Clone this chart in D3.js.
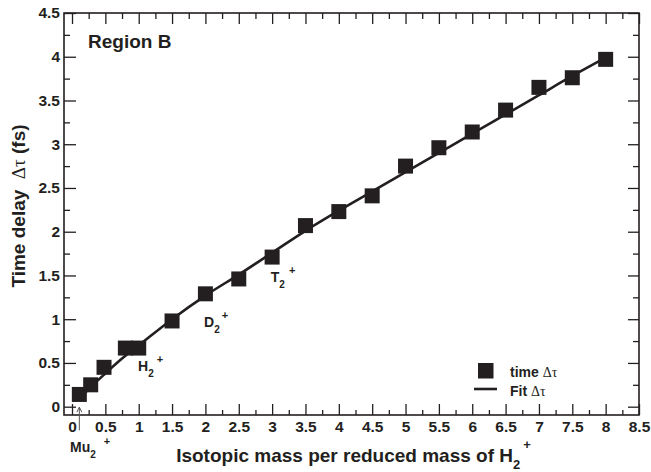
<!DOCTYPE html>
<html>
<head>
<meta charset="utf-8">
<script src="https://cdn.jsdelivr.net/npm/d3@7"></script>
<style>
  body { margin: 0; background: #fff; }
  svg { display: block; font-family: "Liberation Sans", Arial, sans-serif; }
</style>
</head>
<body>
<svg width="651" height="472"></svg>
<script>
// measured points (isotopic mass ratio vs time delay)
const massRatio = [0.11, 0.28, 0.48, 0.8, 1.0, 1.5, 2, 2.5, 3, 3.5, 4, 4.5, 5, 5.5, 6, 6.5, 7, 7.5, 8];
const timeDelay = [0.14, 0.25, 0.45, 0.67, 0.67, 0.98, 1.29, 1.46, 1.71, 2.07, 2.23, 2.41, 2.75, 2.96, 3.14, 3.39, 3.65, 3.76, 3.97];

// fit curve
const fitX = [0.1, 0.25, 0.5, 0.75, 1, 1.5, 2, 2.5, 3, 3.5, 4, 4.5, 5, 5.5, 6, 6.5, 7, 7.5, 8];
const fitY = [0.08, 0.2, 0.38, 0.55, 0.7, 1.0, 1.27, 1.51, 1.76, 2.01, 2.24, 2.46, 2.68, 2.9, 3.12, 3.34, 3.56, 3.78, 3.99];

const xTicks = [0, 0.5, 1, 1.5, 2, 2.5, 3, 3.5, 4, 4.5, 5, 5.5, 6, 6.5, 7, 7.5, 8, 8.5];
const yTicks = [0, 0.5, 1, 1.5, 2, 2.5, 3, 3.5, 4, 4.5];

// isotope labels: base letter, anchor in data units
const isotopes = [
  { name: "Mu", x: -0.03, y: -0.52, gap: 8, up: -13 },
  { name: "H", x: 0.99, y: 0.41, gap: 3, up: -14 },
  { name: "D", x: 1.98, y: 0.91, gap: 2, up: -14 },
  { name: "T", x: 2.98, y: 1.42, gap: 4, up: -14 }
];

const ink = "#231f20";
const svg = d3.select("svg");

// 坐标区域
const pL = 64, pR = 639, pT = 13, pB = 415;
const x = d3.scaleLinear().domain([-0.12, 8.5]).range([pL, pR]);
const y = d3.scaleLinear().domain([-0.095, 4.5]).range([pB, pT]);

const minorX = d3.range(0.25, 8.5, 0.5);
const minorY = d3.range(0.25, 4.5, 0.5);

function styleAxis(g) {
  g.select(".domain").remove();
  g.selectAll(".tick line").attr("stroke", ink).attr("stroke-width", 1.3);
  g.selectAll(".tick text")
    .attr("fill", ink)
    .style("font-size", "15.5px")
    .style("font-weight", "bold")
    .style("font-family", "Liberation Sans, Arial, sans-serif");
}

// bottom
svg.append("g").attr("transform", `translate(0,${pB})`)
  .call(d3.axisBottom(x).tickValues(xTicks).tickSize(-11).tickFormat(d => d))
  .call(styleAxis)
  .selectAll(".tick text").attr("y", 6);
svg.append("g").attr("transform", `translate(0,${pB})`)
  .call(d3.axisBottom(x).tickValues(minorX).tickSize(-5).tickFormat(""))
  .call(styleAxis);
// top
svg.append("g").attr("transform", `translate(0,${pT})`)
  .call(d3.axisTop(x).tickValues(xTicks).tickSize(-11).tickFormat(""))
  .call(styleAxis);
svg.append("g").attr("transform", `translate(0,${pT})`)
  .call(d3.axisTop(x).tickValues(minorX).tickSize(-6).tickFormat(""))
  .call(styleAxis);
// left
svg.append("g").attr("transform", `translate(${pL},0)`)
  .call(d3.axisLeft(y).tickValues(yTicks).tickSize(-12).tickFormat(d => d))
  .call(styleAxis)
  .selectAll(".tick text").attr("x", -4);
svg.append("g").attr("transform", `translate(${pL},0)`)
  .call(d3.axisLeft(y).tickValues(minorY).tickSize(-6).tickFormat(""))
  .call(styleAxis);
// right
svg.append("g").attr("transform", `translate(${pR},0)`)
  .call(d3.axisRight(y).tickValues(yTicks).tickSize(-11).tickFormat(""))
  .call(styleAxis);
svg.append("g").attr("transform", `translate(${pR},0)`)
  .call(d3.axisRight(y).tickValues(minorY).tickSize(-6).tickFormat(""))
  .call(styleAxis);

// frame
svg.append("rect")
  .attr("x", pL).attr("y", pT)
  .attr("width", pR - pL).attr("height", pB - pT)
  .attr("fill", "none").attr("stroke", ink).attr("stroke-width", 1.6);

// fit line
const fitLine = d3.line().curve(d3.curveMonotoneX).x(d => x(d[0])).y(d => y(d[1]));
svg.append("path")
  .datum(fitX.map((v, i) => [v, fitY[i]]))
  .attr("d", fitLine)
  .attr("fill", "none")
  .attr("stroke", ink)
  .attr("stroke-width", 2.6);

// markers
const s = 15;
svg.append("g").selectAll("rect")
  .data(massRatio)
  .join("rect")
  .attr("x", d => x(d) - s / 2)
  .attr("y", (d, i) => y(timeDelay[i]) - s / 2)
  .attr("width", s).attr("height", s)
  .attr("fill", ink);

// isotope labels
isotopes.forEach(d => {
  const t = svg.append("text")
    .attr("x", x(d.x)).attr("y", y(d.y))
    .attr("fill", ink)
    .style("font-size", "14px").style("font-weight", "bold");
  t.append("tspan").text(d.name);
  t.append("tspan").text("2").style("font-size", "10px").attr("dy", 6);
  t.append("tspan").text("+").style("font-size", "11px").attr("dx", d.gap).attr("dy", d.up);
});

// arrow to Mu2+
const ax = x(massRatio[0]);
const tipY = y(-0.006);
svg.append("path")
  .attr("d", `M${ax},${y(-0.27)} V${tipY} M${ax - 2.5},${tipY + 5} L${ax},${tipY} L${ax + 2.5},${tipY + 5}`)
  .attr("fill", "none").attr("stroke", "#555").attr("stroke-width", 1);

// Region B
svg.append("text")
  .attr("x", 88).attr("y", 48)
  .attr("fill", ink)
  .style("font-size", "19px").style("font-weight", "bold")
  .text("Region B");

// axis titles
const xt = svg.append("text")
  .attr("x", (pL + pR) / 2 + 2).attr("y", 462)
  .attr("text-anchor", "middle")
  .attr("fill", ink)
  .style("font-size", "19px").style("font-weight", "bold");
xt.append("tspan").text("Isotopic mass per reduced mass of H");
xt.append("tspan").text("2").style("font-size", "13px").attr("dy", 7);
xt.append("tspan").text("+").style("font-size", "13px").attr("dx", 3).attr("dy", -20);

const yt = svg.append("text")
  .attr("transform", `translate(25,${(pT + pB) / 2 - 8}) rotate(-90)`)
  .attr("text-anchor", "middle")
  .attr("fill", ink)
  .style("font-size", "19px").style("font-weight", "bold");
yt.append("tspan").text("Time delay\u00a0\u00a0");
yt.append("tspan").text("\u0394\u03c4").style("font-family", "Liberation Serif, serif").style("font-weight", "normal");
yt.append("tspan").text(" (fs)");

// legend
const legend = svg.append("g");
legend.append("rect")
  .attr("x", 478).attr("y", 363).attr("width", 15.5).attr("height", 15.5)
  .attr("fill", ink);
legend.append("line")
  .attr("x1", 474).attr("x2", 497).attr("y1", 389).attr("y2", 389)
  .attr("stroke", ink).attr("stroke-width", 2.6);
[["time ", 377], ["Fit ", 396]].forEach(([lab, yy]) => {
  const t = legend.append("text")
    .attr("x", 510).attr("y", yy).attr("fill", ink)
    .style("font-size", "14px").style("font-weight", "bold");
  t.append("tspan").text(lab);
  t.append("tspan").text("\u0394\u03c4").style("font-family", "Liberation Serif, serif").style("font-weight", "normal");
});
</script>
</body>
</html>
